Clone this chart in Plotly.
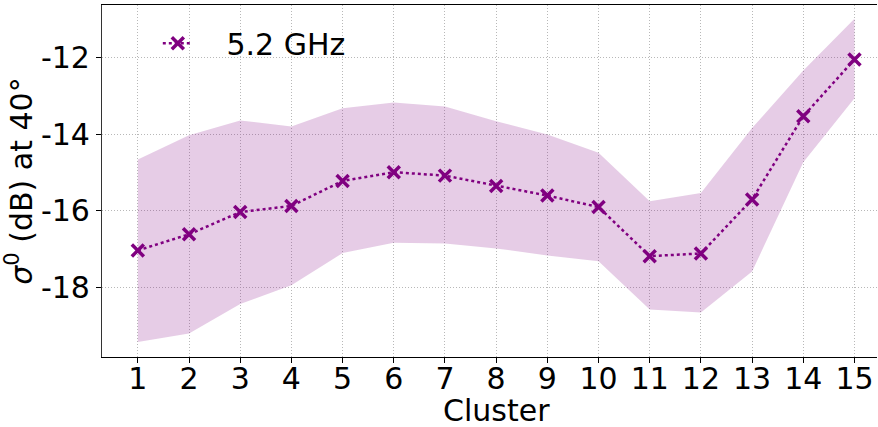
import plotly.graph_objects as go

clusters = list(range(1, 16))
sigma0_mean = [-17.03, -16.61, -16.03, -15.87, -15.22, -14.99, -15.08, -15.35,
               -15.60, -15.90, -17.18, -17.11, -15.70, -13.53, -12.05]
band_upper = [-14.66, -14.03, -13.64, -13.80, -13.32, -13.17, -13.28, -13.66,
              -14.01, -14.48, -15.75, -15.53, -13.84, -12.34, -10.99]
band_lower = [-19.42, -19.20, -18.43, -17.94, -17.10, -16.83, -16.85, -16.98,
              -17.16, -17.31, -18.57, -18.65, -17.58, -14.73, -13.06]
y_ticks = [-18, -16, -14, -12]
y_tick_labels = ["-18", "-16", "-14", "-12"]
series_name = "5.2 GHz"
x_title = "Cluster"

purple = "#800080"
font_family = "DejaVu Sans"
fs = 30
grid = dict(showgrid=True, gridcolor="#b8b8b8", griddash="1px,2px", gridwidth=1)

fig = go.Figure()
fig.add_trace(go.Scatter(x=clusters, y=band_lower, mode="lines",
                         line=dict(width=0), showlegend=False, hoverinfo="skip"))
fig.add_trace(go.Scatter(x=clusters, y=band_upper, mode="lines",
                         line=dict(width=0), fill="tonexty",
                         fillcolor="rgba(128,0,128,0.2)", showlegend=False,
                         hoverinfo="skip"))
fig.add_trace(go.Scatter(x=clusters, y=sigma0_mean, mode="lines+markers",
                         name="\u00a0\u00a0\u00a0" + series_name,
                         line=dict(color=purple, width=2.5, dash="dot"),
                         marker=dict(symbol="x-thin", size=12, color=purple,
                                     line=dict(color=purple, width=3.5))))

fig.update_layout(
    width=878, height=427,
    margin=dict(l=102, r=1, t=5, b=70, autoexpand=False),
    plot_bgcolor="white", paper_bgcolor="white",
    font=dict(family=font_family, size=fs, color="black"),
    legend=dict(x=0.072, y=0.965, xanchor="left", yanchor="top",
                bgcolor="rgba(255,255,255,0)", font=dict(size=fs)),
    annotations=[dict(text=x_title, xref="x", yref="paper", x=8, y=-0.153,
                      xanchor="center", yanchor="middle", showarrow=False,
                      font=dict(size=fs, family=font_family, color="black"))],
)
fig.update_xaxes(
    range=[0.3, 15.44], tickmode="array", tickvals=clusters,
    ticks="outside", ticklen=5, tickcolor="black",
    showline=True, linecolor="black", linewidth=1.2, mirror=True,
    zeroline=False, automargin=False, ticklabelstandoff=-10,
    tickfont=dict(size=fs), **grid,
)
fig.update_yaxes(
    range=[-19.81, -10.63], tickmode="array", tickvals=y_ticks,
    ticktext=y_tick_labels,
    ticks="outside", ticklen=5, tickcolor="black",
    showline=True, linecolor="#333333", linewidth=1.2,
    zeroline=False, automargin=False,
    title=dict(text="<i>σ</i><sup>0</sup> (dB) at 40°", standoff=6, font=dict(size=fs)),
    tickfont=dict(size=fs), **grid,
)

fig.write_html("out.html", config={"displayModeBar": False},
               post_script="document.body.style.margin='0px';document.body.style.padding='0px';")
